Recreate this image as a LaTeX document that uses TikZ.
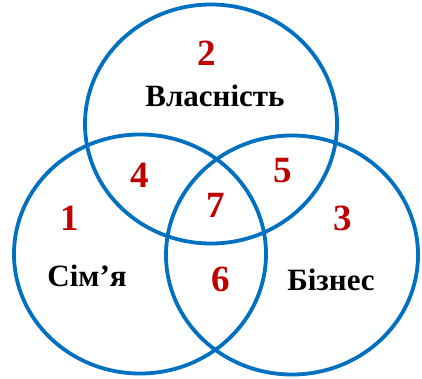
\documentclass[tikz,border=0pt]{standalone}
\usepackage{fontspec}
\setmainfont{Liberation Serif}
\usetikzlibrary{shapes.geometric}
\definecolor{ringblue}{HTML}{0070C0}
\definecolor{numred}{HTML}{C00000}
\definecolor{wordfg}{HTML}{000000}

\begin{document}
\begin{tikzpicture}[
  x=1pt, y=-1pt,
  ring/.style={
    ellipse,
    draw=ringblue,
    line width=3.8pt,
    minimum width=252pt,
    minimum height=239pt,
    inner sep=0pt
  },
  num/.style={
    anchor=base,
    inner sep=0pt,
    text=numred,
    font=\bfseries\fontsize{37}{42}\selectfont
  },
  word/.style={
    anchor=base,
    inner sep=0pt,
    text=wordfg,
    font=\bfseries\fontsize{31}{36}\selectfont
  }
]
\useasboundingbox (0,0) rectangle (422,378);

% --- Circles ---
\node[ring] (own) at (211,124) {};
\node[ring] (family) at (140,254) {};
\node[ring] (business) at (292,255) {};

% --- Names ---
\node[word] (ownlbl) at (215,106) {Власність};
\node[word] (familylbl) at (87,286) {Сім’я};
\node[word] (businesslbl) at (331,290) {Бізнес};

% --- Region numbers ---
\node[num] (n1) at (70,230) {1};
\node[num] (n2) at (206.5,65) {2};
\node[num] (n3) at (343,230) {3};
\node[num] (n4) at (140,187) {4};
\node[num] (n5) at (283,182) {5};
\node[num] (n6) at (221,291) {6};
\node[num] (n7) at (216,217) {7};

\end{tikzpicture}
\end{document}
